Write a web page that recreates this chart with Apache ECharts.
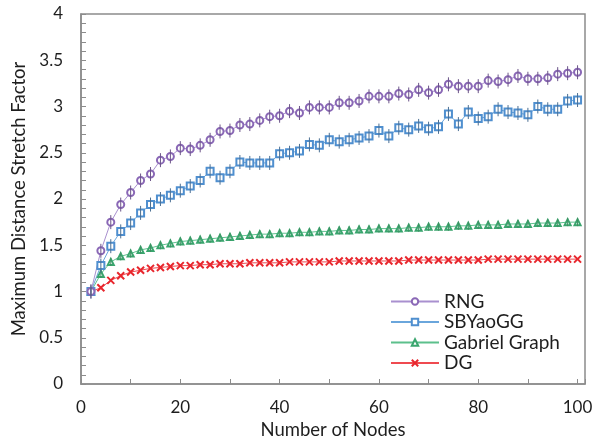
<!DOCTYPE html>
<html>
<head>
<meta charset="utf-8">
<script src="https://cdn.jsdelivr.net/npm/echarts@6/dist/echarts.min.js"></script>
<style>
  html, body { margin: 0; padding: 0; background: #fff; }
  #chart { width: 601px; height: 436px; }
</style>
</head>
<body>
<div id="chart"></div>
<script>
// Number of nodes (x values)
const nodes = [2, 4, 6, 8, 10, 12, 14, 16, 18, 20, 22, 24, 26, 28, 30, 32, 34, 36, 38, 40,
  42, 44, 46, 48, 50, 52, 54, 56, 58, 60, 62, 64, 66, 68, 70, 72, 74, 76, 78, 80,
  82, 84, 86, 88, 90, 92, 94, 96, 98, 100];

// Maximum distance stretch factor per series
const rng = [1.00, 1.44, 1.75, 1.94, 2.07, 2.20, 2.27, 2.42, 2.46, 2.55,
  2.54, 2.58, 2.64, 2.73, 2.74, 2.80, 2.81, 2.85, 2.89, 2.90,
  2.95, 2.93, 2.99, 2.99, 2.99, 3.04, 3.04, 3.06, 3.11, 3.11,
  3.11, 3.14, 3.13, 3.18, 3.15, 3.18, 3.24, 3.22, 3.22, 3.22,
  3.28, 3.27, 3.29, 3.33, 3.30, 3.30, 3.31, 3.35, 3.36, 3.37];
const sbyaogg = [1.00, 1.28, 1.49, 1.65, 1.74, 1.85, 1.94, 2.00, 2.04, 2.09,
  2.14, 2.20, 2.30, 2.23, 2.30, 2.40, 2.39, 2.39, 2.39, 2.49,
  2.50, 2.52, 2.59, 2.58, 2.64, 2.62, 2.64, 2.66, 2.68, 2.74,
  2.68, 2.77, 2.75, 2.79, 2.76, 2.78, 2.92, 2.81, 2.94, 2.87,
  2.89, 2.97, 2.94, 2.93, 2.91, 3.00, 2.97, 2.97, 3.06, 3.07];
const gabriel = [1.00, 1.19, 1.32, 1.38, 1.41, 1.45, 1.47, 1.50, 1.52, 1.54,
  1.55, 1.56, 1.57, 1.58, 1.59, 1.60, 1.61, 1.62, 1.62, 1.63,
  1.63, 1.64, 1.64, 1.65, 1.65, 1.66, 1.66, 1.67, 1.67, 1.68,
  1.68, 1.68, 1.69, 1.69, 1.70, 1.70, 1.70, 1.71, 1.71, 1.72,
  1.72, 1.72, 1.73, 1.73, 1.73, 1.74, 1.74, 1.74, 1.75, 1.75];
const dg = [1.00, 1.04, 1.12, 1.17, 1.21, 1.23, 1.25, 1.26, 1.27, 1.28,
  1.28, 1.29, 1.29, 1.30, 1.30, 1.30, 1.31, 1.31, 1.31, 1.31,
  1.32, 1.32, 1.32, 1.32, 1.32, 1.33, 1.33, 1.33, 1.33, 1.33,
  1.33, 1.33, 1.34, 1.34, 1.34, 1.34, 1.34, 1.34, 1.34, 1.34,
  1.35, 1.35, 1.35, 1.35, 1.35, 1.35, 1.35, 1.35, 1.35, 1.35];

const FONT = "Lato";
const AXIS_GRAY = "#8c8c8c";
const TEXT = "#1e1e1e";

const pairs = vals => nodes.map((n, i) => [n, vals[i]]);

// line series with marker
function lineSeries(name, vals, lineColor, markColor, symbol, size, bw) {
  return {
    name,
    type: "line",
    data: pairs(vals),
    symbol,
    symbolSize: size,
    showSymbol: true,
    lineStyle: { color: lineColor, width: 1 },
    itemStyle: { color: markColor, borderColor: markColor, borderWidth: bw },
    emphasis: { disabled: true },
    z: 3
  };
}

// small vertical error bar through each point
function errorBars(vals, color, half) {
  return {
    type: "custom",
    data: pairs(vals),
    encode: { x: 0, y: 1 },
    silent: true,
    z: 4,
    renderItem: (params, api) => {
      const p = api.coord([api.value(0), api.value(1)]);
      return {
        type: "line",
        shape: { x1: p[0], y1: p[1] - half, x2: p[0], y2: p[1] + half },
        style: { stroke: color, lineWidth: 1 }
      };
    }
  };
}

const chart = echarts.init(document.getElementById("chart"), null, { renderer: "canvas" });

chart.setOption({
  backgroundColor: "#fff",
  animation: false,
  textStyle: { fontFamily: FONT },
  grid: {
    left: 81, right: 16, top: 14, bottom: 52,
    outerBoundsMode: "none",
    show: true, borderColor: AXIS_GRAY, borderWidth: 1.5
  },
  legend: {
    orient: "vertical",
    left: 385, top: 287,
    itemWidth: 48, itemHeight: 8, itemGap: 1.5,
    textStyle: { fontFamily: FONT, fontSize: 19, color: TEXT },
    data: ["RNG", "SBYaoGG", "Gabriel Graph", "DG"]
  },
  xAxis: {
    type: "value",
    min: 0, max: 101.5, interval: 10,
    name: "Number of Nodes",
    nameLocation: "middle",
    nameGap: 35,
    nameTextStyle: { fontFamily: FONT, fontSize: 18.5, color: TEXT },
    axisLine: { lineStyle: { color: AXIS_GRAY, width: 1.5 } },
    axisTick: { inside: true, length: 5, lineStyle: { color: AXIS_GRAY } },
    splitLine: { show: false },
    axisLabel: {
      fontFamily: FONT, fontSize: 17, color: TEXT, margin: 15,
      formatter: v => (v % 20 === 0 && v <= 100 ? String(v) : "")
    }
  },
  yAxis: {
    type: "value",
    min: 0, max: 4, interval: 0.1,
    name: "Maximum Distance Stretch Factor",
    nameLocation: "middle",
    nameGap: 52,
    nameTextStyle: { fontFamily: FONT, fontSize: 18.5, color: TEXT },
    axisLine: { show: true, lineStyle: { color: AXIS_GRAY, width: 1.5 } },
    axisTick: { show: true, inside: true, length: 5, lineStyle: { color: AXIS_GRAY } },
    splitLine: { show: false },
    axisLabel: {
      fontFamily: FONT, fontSize: 17, color: TEXT, margin: 18,
      formatter: v => {
        const h = v * 2;
        return Math.abs(h - Math.round(h)) < 1e-6 ? String(Math.round(v * 10) / 10) : "";
      }
    }
  },
  series: [
    lineSeries("DG", dg, "#ef4a50", "#e8262d", "path://M0,0 L10,10 M0,10 L10,0", 7, 2),
    lineSeries("Gabriel Graph", gabriel, "#5cc08c", "#3aa56e", "emptyTriangle", 6, 1),
    lineSeries("SBYaoGG", sbyaogg, "#6aa6dc", "#4f8fcf", "emptyRect", 7, 1),
    lineSeries("RNG", rng, "#a990cf", "#8a68b6", "emptyCircle", 7, 1),
    errorBars(gabriel, "#3f8f62", 4),
    errorBars(sbyaogg, "#4b6f93", 7),
    errorBars(rng, "#6b5488", 7)
  ]
});
</script>
</body>
</html>
